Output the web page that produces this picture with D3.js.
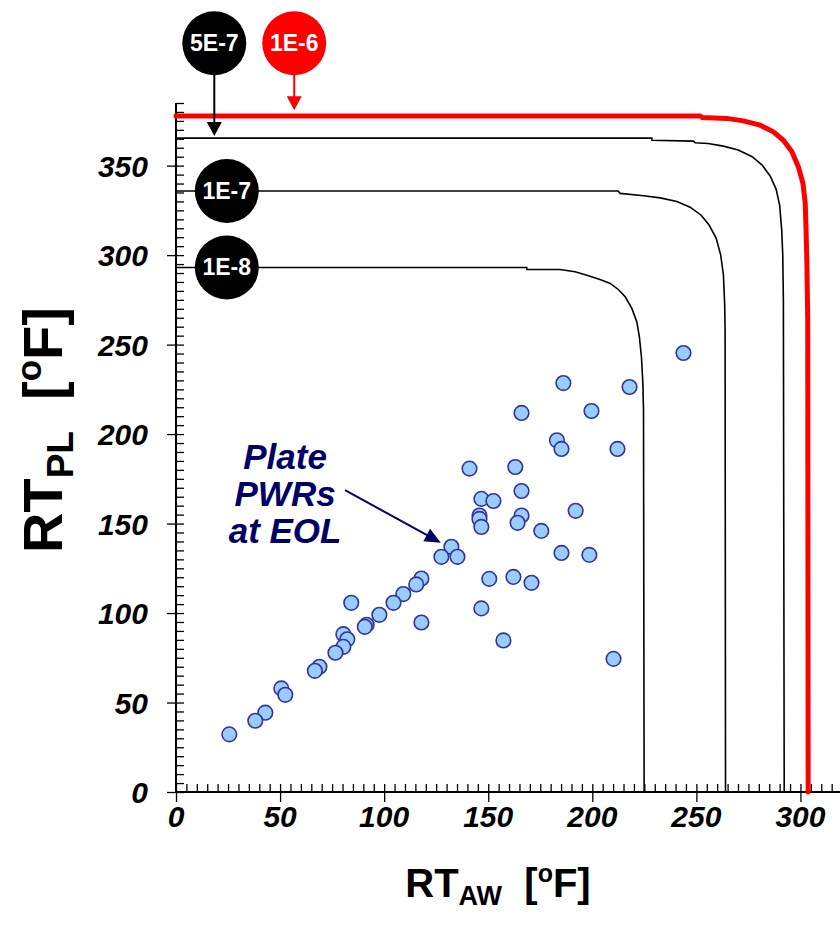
<html>
<head>
	<meta http-equiv="content-type" content="text/html" charset="utf-8" />
	<script src="https://cdnjs.cloudflare.com/ajax/libs/d3/7.8.5/d3.min.js"></script>
	<style>
		body { margin: 0; background: #fff; }
		text { font-family: Arial, "Liberation Sans", sans-serif; font-weight: bold; }
	</style>
</head>
<body>
<div id="datavis"></div>

<script type="text/javascript">

	// tick labels
	var xTicks = [0, 50, 100, 150, 200, 250, 300];
	var yTicks = [0, 50, 100, 150, 200, 250, 300, 350];

	// plate PWRs at EOL: RT_AW, RT_PL
	var plateAW = [243.8, 186.1, 217.9, 166.0, 199.6, 183.0, 185.2, 212.1, 141.0, 163.0,
		166.0, 146.7, 152.5, 145.8, 145.8, 146.7, 166.0, 164.1, 192.0, 175.5,
		132.3, 127.5, 135.2, 185.2, 198.6, 150.5, 162.1, 170.8, 146.7, 157.3,
		210.2, 117.9, 115.4, 109.2, 104.5, 97.7, 91.6, 90.7, 84.2, 117.9,
		80.4, 82.3, 80.4, 76.6, 68.9, 66.7, 50.6, 52.5, 42.9, 38.1, 25.6];
	var platePL = [245.3, 228.5, 226.3, 211.8, 212.9, 196.5, 191.7, 191.7, 180.7, 181.6,
		168.2, 163.8, 162.6, 154.5, 152.6, 148.1, 154.5, 150.4, 157.1, 145.9,
		137.0, 131.4, 131.4, 133.6, 132.5, 119.1, 120.2, 116.9, 102.6, 84.7,
		74.4, 119.3, 116.0, 110.6, 105.7, 99.0, 93.4, 92.3, 105.7, 94.7,
		88.2, 85.3, 81.1, 77.8, 70.0, 67.7, 57.9, 54.3, 44.3, 39.8, 32.2];

	// TWCF curves [RT_AW, RT_PL]
	var c1e8 = [[0, 293.1], [168.5, 293.1], [168.6, 292.0], [184.5, 292.0], [191.7, 290.7],
		[197.4, 288.8], [203.7, 286.4], [208.6, 284.2], [212.5, 280.8], [215.8, 276.7],
		[219.0, 270.2], [221.4, 262.7], [222.6, 254.4], [223.6, 243.2], [224.3, 228.3],
		[224.6, 213.4], [224.9, 0]];
	var c1e7 = [[0, 335.8], [212.4, 335.8], [213.4, 334.5], [224.6, 333.2], [232.6, 332.0],
		[240.6, 330.0], [247.0, 326.8], [252.3, 322.3], [256.1, 316.8], [259.5, 309.5],
		[261.7, 300.0], [263.0, 288.8], [263.6, 272.1], [263.8, 258.1], [264.0, 0]];
	var c5e7 = [[0, 365.4], [228.6, 365.4], [228.7, 364.2], [248.6, 363.7], [249.4, 362.8],
		[255.6, 362.4], [263.0, 360.9], [270.1, 358.7], [276.8, 355.0], [281.6, 350.3],
		[285.5, 344.1], [288.3, 336.9], [290.0, 327.9], [291.0, 314.0], [291.5, 300.0],
		[291.8, 274.9], [292.2, 0]];
	var c1e6 = [[0, 377.8], [251.8, 377.8], [252.8, 376.9], [264.6, 376.4], [272.6, 375.0],
		[280.6, 372.6], [287.0, 368.9], [291.8, 364.2], [295.9, 357.7], [299.0, 349.3],
		[301.2, 340.1], [302.3, 328.9], [302.7, 314.0], [303.1, 295.4], [303.5, 263.7],
		[303.7, 0]];

	var curveNames = ["1E-8", "1E-7", "5E-7", "1E-6"];
	var labelAW = [24.4, 24.4, 18.4, 56.8];
	var labelPL = [293.1, 335.8, 418.4, 418.4];
	var arrowTipPL = [null, null, 366.5, 381.0];

	var w = 840, h = 933;

	var svg = d3.select("#datavis")
		.append("svg")
		.attr("width", w)
		.attr("height", h);

	var x = d3.scaleLinear().domain([0, 319]).range([176, 840]);
	var y = d3.scaleLinear().domain([0, 385]).range([792, 103]);

	// axes: minor ticks inside, majors crossing
	var xAxis = svg.append("g").attr("transform", "translate(0," + y(0) + ")");
	xAxis.call(d3.axisTop(x).tickValues(d3.range(0, 320, 5)).tickSize(8).tickFormat(""));
	xAxis.call(function(g){ g.select(".domain").remove(); });
	xAxis.append("g")
		.call(d3.axisBottom(x).tickValues(xTicks).tickSize(10).tickFormat(""))
		.call(function(g){ g.select(".domain").remove(); });
	xAxis.selectAll("line").attr("stroke", "#000").attr("stroke-width", 1.3);
	xAxis.append("line").attr("x1", x(0)).attr("x2", 840).attr("stroke", "#000").attr("stroke-width", 2);
	xAxis.selectAll(".xlab")
		.data(xTicks)
		.enter()
		.append("text")
		.attr("class", "xlab")
		.attr("x", function(d){ return x(d); })
		.attr("y", 35)
		.attr("fill", "#000")
		.attr("text-anchor", "middle")
		.style("font-size", "30px")
		.style("font-style", "italic")
		.text(function(d){ return d; });

	var yAxis = svg.append("g").attr("transform", "translate(" + x(0) + ",0)");
	yAxis.call(d3.axisRight(y).tickValues(d3.range(0, 390, 5)).tickSize(8).tickFormat(""));
	yAxis.call(function(g){ g.select(".domain").remove(); });
	yAxis.append("g")
		.call(d3.axisLeft(y).tickValues(yTicks).tickSize(9).tickFormat(""))
		.call(function(g){ g.select(".domain").remove(); });
	yAxis.selectAll("line").attr("stroke", "#000").attr("stroke-width", 1.3);
	yAxis.append("line").attr("y1", y(0)).attr("y2", y(385)).attr("stroke", "#000").attr("stroke-width", 2);
	yAxis.selectAll(".ylab")
		.data(yTicks)
		.enter()
		.append("text")
		.attr("class", "ylab")
		.attr("x", -28)
		.attr("y", function(d){ return y(d) + 11; })
		.attr("fill", "#000")
		.attr("text-anchor", "end")
		.style("font-size", "30px")
		.style("font-style", "italic")
		.text(function(d){ return d; });

	// axis titles
	var xt = svg.append("text")
		.attr("x", 498)
		.attr("y", 897)
		.attr("text-anchor", "middle")
		.style("font-size", "40px");
	xt.append("tspan").text("RT");
	xt.append("tspan").attr("dy", 8).style("font-size", "27px").text("AW");
	xt.append("tspan").attr("dy", -8).text("\u00a0\u00a0[");
	xt.append("tspan").attr("dy", -15).style("font-size", "25px").text("o");
	xt.append("tspan").attr("dy", 15).text("F]");

	var yt = svg.append("text")
		.attr("transform", "translate(62,430) rotate(-90)")
		.attr("text-anchor", "middle")
		.style("font-size", "56px");
	yt.append("tspan").text("RT");
	yt.append("tspan").attr("dy", 11).style("font-size", "37px").text("PL");
	yt.append("tspan").attr("dy", -11).text("\u00a0\u00a0[");
	yt.append("tspan").attr("dy", -21).style("font-size", "35px").text("o");
	yt.append("tspan").attr("dy", 21).text("F]");

	// curves
	var line = d3.line()
		.x(function(d){ return x(d[0]); })
		.y(function(d){ return y(d[1]); });

	[c1e8, c1e7, c5e7].forEach(function(c){
		svg.append("path")
			.attr("d", line(c))
			.attr("fill", "none")
			.attr("stroke", "#000")
			.attr("stroke-width", 1.6);
	});
	svg.append("path")
		.attr("d", line(c1e6))
		.attr("fill", "none")
		.attr("stroke", "#ff0000")
		.attr("stroke-width", 5)
		.attr("stroke-linecap", "round");

	// scatter
	svg.append("g")
		.selectAll("circle")
		.data(d3.range(plateAW.length))
		.enter()
		.append("circle")
		.attr("cx", function(i){ return x(plateAW[i]); })
		.attr("cy", function(i){ return y(platePL[i]); })
		.attr("r", 7.3)
		.attr("fill", "#99ccff")
		.attr("stroke", "#333399")
		.attr("stroke-width", 1.6);

	// curve labels
	curveNames.forEach(function(name, i){
		var col = name == "1E-6" ? "#ff0000" : "#000";
		var cx = x(labelAW[i]), cy = y(labelPL[i]);
		if (arrowTipPL[i] != null) {
			var tip = y(arrowTipPL[i]);
			svg.append("line")
				.attr("x1", cx).attr("x2", cx)
				.attr("y1", cy).attr("y2", tip - 12)
				.attr("stroke", col)
				.attr("stroke-width", 2);
			svg.append("path")
				.attr("d", "M" + (cx - 7.5) + "," + (tip - 14) + "L" + (cx + 7.5) + "," + (tip - 14) + "L" + cx + "," + tip + "Z")
				.attr("fill", col);
		}
		svg.append("circle")
			.attr("cx", cx)
			.attr("cy", cy)
			.attr("r", 32)
			.attr("fill", col);
		svg.append("text")
			.attr("x", cx)
			.attr("y", cy + 8)
			.attr("text-anchor", "middle")
			.attr("fill", "#fff")
			.style("font-size", "23px")
			.text(name);
	});

	// annotation
	var navy = "#000066";
	var note = ["Plate", "PWRs", "at EOL"];
	svg.append("g")
		.selectAll("text")
		.data(note)
		.enter()
		.append("text")
		.attr("x", x(52.4))
		.attr("y", function(d, i){ return y(180.4) + i * 37; })
		.attr("text-anchor", "middle")
		.attr("fill", navy)
		.style("font-size", "35px")
		.style("font-style", "italic")
		.text(function(d){ return d; });

	var a0 = [x(81.2), y(168.7)], a1 = [x(127.2), y(139.3)];
	var ang = Math.atan2(a1[1] - a0[1], a1[0] - a0[0]);
	svg.append("line")
		.attr("x1", a0[0]).attr("y1", a0[1])
		.attr("x2", a1[0] - 12 * Math.cos(ang)).attr("y2", a1[1] - 12 * Math.sin(ang))
		.attr("stroke", navy)
		.attr("stroke-width", 2);
	svg.append("path")
		.attr("d", "M0,0L-16,-7L-16,7Z")
		.attr("transform", "translate(" + a1[0] + "," + a1[1] + ") rotate(" + (ang * 180 / Math.PI) + ")")
		.attr("fill", navy);

</script>
</body>
</html>
